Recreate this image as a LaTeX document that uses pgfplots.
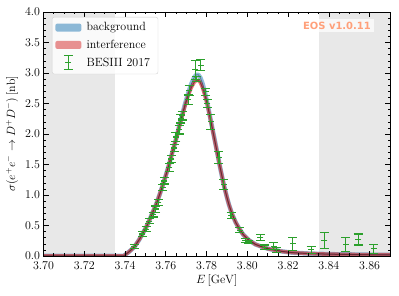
\documentclass[border=0pt]{standalone}
\usepackage{pgfplots}
\usepackage{pgfplotstable}
\pgfplotsset{compat=1.18}
\usepackage{fontspec}
\newfontfamily\dejavu{DejaVu Sans}
\definecolor{c0}{RGB}{31,119,180}
\definecolor{c1}{RGB}{214,39,40}
\definecolor{c2}{RGB}{44,160,44}
\definecolor{bandgray}{RGB}{232,232,232}
\definecolor{eos}{RGB}{255,160,122}

\pgfplotstableread{
E s e
3.7446 0.16 0.03
3.7485 0.36 0.04
3.7503 0.44 0.04
3.7520 0.57 0.04
3.7538 0.68 0.04
3.7550 0.77 0.05
3.7563 0.88 0.05
3.7585 1.12 0.05
3.7593 1.23 0.05
3.7618 1.45 0.06
3.7627 1.59 0.06
3.7641 1.77 0.06
3.7650 1.95 0.07
3.7665 2.07 0.07
3.7674 2.25 0.07
3.7680 2.30 0.07
3.7710 2.56 0.08
3.7715 2.71 0.08
3.7744 3.05 0.16
3.7749 2.90 0.04
3.7771 3.13 0.09
3.7796 2.69 0.06
3.7804 2.50 0.07
3.7820 2.20 0.12
3.7861 1.61 0.10
3.7885 1.17 0.08
3.7920 0.67 0.05
3.7962 0.42 0.04
3.7991 0.25 0.03
3.8007 0.23 0.03
3.8064 0.30 0.05
3.8085 0.14 0.04
3.8129 0.16 0.06
3.8145 0.10 0.04
3.8222 0.20 0.11
3.8313 0.10 0.06
3.8378 0.25 0.13
3.8482 0.19 0.11
3.8544 0.27 0.09
3.8620 0.12 0.075
}\besdata

\pgfplotstableread{
E s
3.7000 0
3.7393 0
3.7420 0.07
3.7446 0.15
3.7470 0.27
3.7487 0.37
3.7505 0.48
3.7520 0.59
3.7535 0.71
3.7552 0.84
3.7568 0.99
3.7584 1.15
3.7600 1.32
3.7617 1.51
3.7633 1.71
3.7650 1.91
3.7665 2.12
3.7680 2.31
3.7695 2.50
3.7710 2.67
3.7725 2.82
3.7740 2.93
3.7750 2.97
3.7760 2.97
3.7770 2.92
3.7780 2.83
3.7792 2.68
3.7804 2.50
3.7816 2.30
3.7828 2.10
3.7845 1.82
3.7866 1.46
3.7885 1.16
3.7900 0.96
3.7910 0.84
3.7926 0.68
3.7943 0.55
3.7960 0.45
3.7980 0.35
3.8007 0.26
3.8040 0.19
3.8072 0.15
3.8100 0.12
3.8130 0.10
3.8170 0.075
3.8220 0.055
3.8300 0.04
3.8400 0.03
3.8500 0.025
3.8600 0.02
3.8700 0.02
}\bkg

\pgfplotstableread{
E s
3.7000 0
3.7393 0
3.7420 0.07
3.7446 0.15
3.7470 0.27
3.7487 0.37
3.7505 0.48
3.7520 0.59
3.7535 0.71
3.7552 0.84
3.7568 0.99
3.7584 1.15
3.7600 1.32
3.7617 1.51
3.7633 1.71
3.7650 1.91
3.7665 2.11
3.7680 2.29
3.7695 2.47
3.7710 2.63
3.7725 2.76
3.7740 2.85
3.7750 2.88
3.7760 2.88
3.7770 2.84
3.7780 2.76
3.7792 2.63
3.7804 2.48
3.7816 2.29
3.7828 2.09
3.7845 1.81
3.7866 1.46
3.7885 1.16
3.7900 0.96
3.7910 0.84
3.7926 0.68
3.7943 0.55
3.7960 0.45
3.7980 0.35
3.8007 0.26
3.8040 0.19
3.8072 0.15
3.8100 0.12
3.8130 0.10
3.8170 0.075
3.8220 0.055
3.8300 0.04
3.8400 0.03
3.8500 0.025
3.8600 0.02
3.8700 0.02
}\intf

\begin{document}
\begin{tikzpicture}
\begin{axis}[
  name=ax,
  scale only axis,
  width=346.5bp, height=244bp,
  xmin=3.70, xmax=3.87, ymin=0, ymax=4.0,
  xtick={3.70,3.72,3.74,3.76,3.78,3.80,3.82,3.84,3.86},
  ytick={0,0.5,1,1.5,2,2.5,3,3.5,4},
  minor x tick num=3, minor y tick num=4,
  tick align=inside, tick pos=both,
  major tick length=5bp, minor tick length=2.5bp,
  tick style={black, line width=0.6bp},
  every minor tick/.style={line width=0.5bp},
  xticklabel style={/pgf/number format/.cd, fixed, fixed zerofill, precision=2},
  yticklabel style={/pgf/number format/.cd, fixed, fixed zerofill, precision=1},
  ticklabel style={font=\fontsize{11.5}{13}\selectfont},
  xticklabel shift=2.5bp,
  label style={font=\fontsize{12}{14}\selectfont},
  xlabel={$E\,[\mathrm{GeV}]$},
  xlabel style={yshift=2bp},
  ylabel={$\sigma(e^+e^-\to D^+D^-)\,[\mathrm{nb}]$},
  axis line style={line width=0.7bp},
  axis on top,
  legend cell align=left,
  legend style={at={(0.0245,0.9795)}, anchor=north west,
    draw=gray!35, rounded corners=2bp, fill=white, fill opacity=0.8, text opacity=1,
    font=\fontsize{12}{14}\selectfont, inner xsep=3bp, inner ysep=3.5bp, row sep=3.5bp,
    nodes={inner xsep=5bp}},
]
\addplot[fill=bandgray, draw=none, forget plot] coordinates {(3.70,0) (3.735,0) (3.735,4) (3.70,4)} -- cycle;
\addplot[fill=bandgray, draw=none, forget plot] coordinates {(3.835,0) (3.87,0) (3.87,4) (3.835,4)} -- cycle;

\addlegendimage{legend image code/.code={\path[fill=c0, fill opacity=0.5, draw=none] (0bp,-4bp) rectangle (26bp,4bp);}}
\addlegendentry{background}
\addlegendimage{legend image code/.code={\path[fill=c1, fill opacity=0.5, draw=none] (0bp,-4bp) rectangle (26bp,4bp);}}
\addlegendentry{interference}
\addlegendimage{legend image code/.code={
  \draw[c2, line width=1.1bp] (13bp,-7bp) -- (13bp,7bp);
  \draw[c2, line width=1.1bp] (8.5bp,-7bp) -- (17.5bp,-7bp);
  \draw[c2, line width=1.1bp] (8.5bp,7bp) -- (17.5bp,7bp);
  \draw[c2, line width=1.1bp] (10bp,0bp) -- (16bp,0bp);
  \path (0bp,0bp) (26bp,0bp);}}
\addlegendentry{BESIII 2017}

\addplot[c0, opacity=0.5, line width=4.5bp, line join=round, forget plot]
  table[x=E, y=s]{\bkg};
\addplot[c1, opacity=0.6, line width=3.6bp, line join=round, forget plot]
  table[x=E, y=s]{\intf};
\addplot[c0!50!black, opacity=0.5, line width=0.8bp, forget plot] table[x=E, y=s]{\bkg};
\addplot[c1!50!black, opacity=0.6, line width=1.0bp, forget plot] table[x=E, y=s]{\intf};

\addplot[c2, only marks, mark=-, mark size=3bp, mark options={line width=1.1bp}, forget plot,
  error bars/.cd, y dir=both, y explicit,
  error bar style={line width=1.1bp, c2},
  error mark options={c2, mark size=4.5bp, line width=1.1bp, rotate=90},
  ]
  table[x=E, y=s, y error=e]{\besdata};
\end{axis}
\node[fill=white, fill opacity=0.7, text opacity=1, text=eos, font=\dejavu\bfseries\fontsize{10}{12}\selectfont, inner sep=3bp, anchor=east]
  at ([xshift=-16bp, yshift=-13.5bp]ax.north east) {EOS v1.0.11};
\pgfresetboundingbox
\path[use as bounding box] ([xshift=-43.5bp,yshift=-40bp]ax.south west) rectangle ([xshift=9bp,yshift=12bp]ax.north east);
\end{tikzpicture}
\end{document}
